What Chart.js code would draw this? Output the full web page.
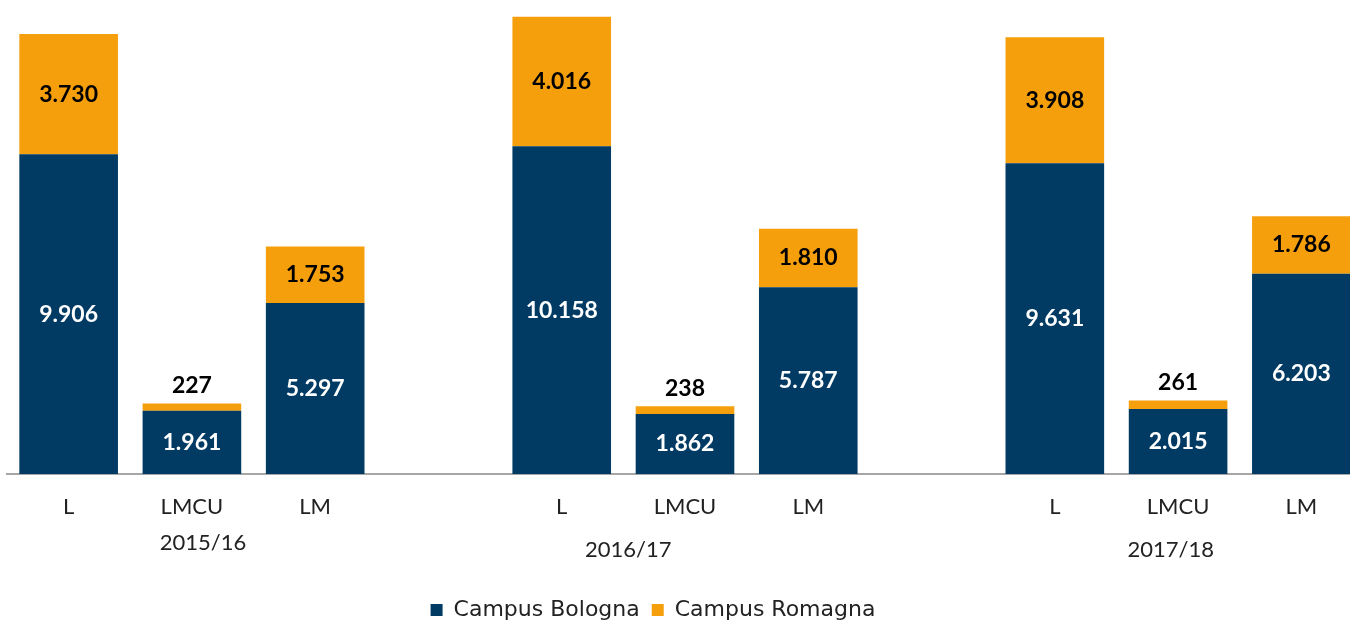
<!DOCTYPE html>
<html>
<head>
<meta charset="utf-8">
<script src="https://cdn.jsdelivr.net/npm/chart.js@4"></script>
<style>
  html, body { margin: 0; padding: 0; background: #fff; overflow: hidden; }
  #wrap { width: 1363px; height: 623px; }
</style>
</head>
<body>
<div id="wrap"><canvas id="iscrittiChart" width="1363" height="623"></canvas></div>
<script>
// categorie (una vuota tra un anno e l'altro)
const categories = ["L", "LMCU", "LM", "", "L", "LMCU", "LM", "", "L", "LMCU", "LM"];
const years = ["2015/16", "2016/17", "2017/18"];
const bologna = [9906, 1961, 5297, null, 10158, 1862, 5787, null, 9631, 2015, 6203];
const romagna = [3730, 227, 1753, null, 4016, 238, 1810, null, 3908, 261, 1786];

const FONT = "Lato, 'Open Sans', sans-serif";
const fmt = v => String(v).replace(/\B(?=(\d{3})+(?!\d))/g, ".");

// etichette valori sulle barre
const valueLabels = {
  id: "valueLabels",
  afterDatasetsDraw(chart) {
    const ctx = chart.ctx;
    ctx.save();
    ctx.font = "bold 23px " + FONT;
    ctx.textAlign = "center";
    ctx.textBaseline = "middle";
    chart.data.datasets.forEach((ds, di) => {
      chart.getDatasetMeta(di).data.forEach((bar, i) => {
        const v = ds.data[i];
        if (v == null) return;
        const h = bar.base - bar.y;
        let y = (bar.y + bar.base) / 2;
        if (di === 1 && h < 30) y = bar.y - 18;
        ctx.fillStyle = di === 0 ? "#ffffff" : "#000000";
        ctx.fillText(fmt(v), bar.x, y);
      });
    });
    ctx.restore();
  }
};

// anno accademico sotto le categorie
const yearLabels = {
  id: "yearLabels",
  afterDraw(chart) {
    const x = chart.scales.x;
    const pos = [[1.09, 543], [4.54, 550], [8.94, 550]];
    const ctx = chart.ctx;
    ctx.save();
    ctx.font = "22px " + FONT;
    ctx.fillStyle = "#222";
    ctx.textAlign = "center";
    ctx.textBaseline = "middle";
    years.forEach((y, i) => {
      ctx.fillText(y, x.getPixelForValue(pos[i][0]), pos[i][1]);
    });
    ctx.restore();
  }
};

// sposta la legenda come nell'originale
const legendShift = {
  id: "legendShift",
  afterLayout(chart) {
    const lg = chart.legend;
    lg.left -= 32; lg.right -= 32;
    lg.top += 8; lg.bottom += 8;
  }
};

new Chart(document.getElementById("iscrittiChart"), {
  type: "bar",
  data: {
    labels: categories,
    datasets: [
      { label: "Campus Bologna", data: bologna, backgroundColor: "#013a63", barPercentage: 0.8, categoryPercentage: 1 },
      { label: "Campus Romagna", data: romagna, backgroundColor: "#f59f0c", barPercentage: 0.8, categoryPercentage: 1 }
    ]
  },
  options: {
    responsive: false,
    animation: false,
    layout: { padding: { left: 7, right: 0, top: 0, bottom: 0 } },
    plugins: {
      legend: {
        position: "bottom",
        labels: {
          boxWidth: 12,
          boxHeight: 12,
          padding: 12,
          color: "#222",
          font: { family: "'DejaVu Sans', sans-serif", size: 22 }
        }
      },
      tooltip: { enabled: false }
    },
    scales: {
      x: {
        stacked: true,
        grid: { display: false },
        border: { color: "#a6a6a6", width: 2 },
        ticks: { color: "#222", padding: 12, font: { family: FONT, size: 22 } },
        afterFit(axis) { axis.height = 105; }
      },
      y: {
        stacked: true,
        display: false,
        min: 0,
        max: 14690
      }
    }
  },
  plugins: [valueLabels, yearLabels, legendShift]
});
</script>
</body>
</html>
